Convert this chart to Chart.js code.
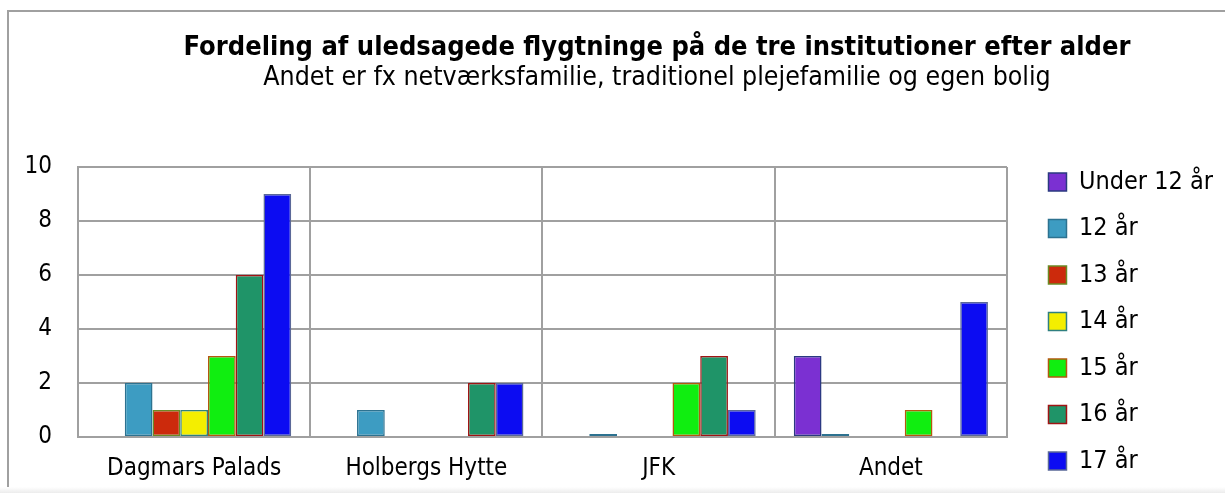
<!DOCTYPE html>
<html>
<head>
<meta charset="utf-8">
<script src="https://cdn.jsdelivr.net/npm/chart.js@4/dist/chart.umd.min.js"></script>
<style>
  body { margin: 0; overflow: hidden; background: #fff; width: 1225px; height: 493px; }
  #frame { position: absolute; left: 7px; top: 10px; width: 1260px; height: 520px; border: 2px solid #a0a0a0; box-sizing: border-box; }
  #shade { position: absolute; left: 0; top: 487px; width: 1225px; height: 6px; background: linear-gradient(#fff, #ececec); }
  canvas { position: absolute; left: 0; top: 0; }
</style>
</head>
<body>
<div id="frame"></div>
<div id="shade"></div>
<canvas id="chart" width="1225" height="493"></canvas>
<script>
// categories and values
const institutions = ['Dagmars Palads', 'Holbergs Hytte', 'JFK', 'Andet'];
const ageGroups = ['Under 12 år', '12 år', '13 år', '14 år', '15 år', '16 år', '17 år'];

const under12 = [null, null, null, 3];
const age12 = [2, 1, 0, 0];
const age13 = [1, null, null, null];
const age14 = [1, null, null, null];
const age15 = [3, null, 2, 1];
const age16 = [6, 2, 3, null];
const age17 = [9, 2, 1, 5];

const yTicks = [0, 2, 4, 6, 8, 10];

const titleText = 'Fordeling af uledsagede flygtninge på de tre institutioner efter alder';
const subtitleText = 'Andet er fx netværksfamilie, traditionel plejefamilie og egen bolig';

const fills = ['#7b30d2', '#3d9cc2', '#cc2a0c', '#f4ee00', '#10ee10', '#1f9468', '#0c0cf2'];
const borders = ['#2a3a80', '#2d7290', '#6b8a24', '#2f7f80', '#b4580e', '#a01414', '#5a6898'];
const series = [under12, age12, age13, age14, age15, age16, age17];

const FONT = '"DejaVu Sans Condensed", "DejaVu Sans", sans-serif';

// title drawn centred where the original chart put it
const headerPlugin = {
  id: 'header',
  afterLayout(chart) {
    // legend sits a bit further from the plot than chart.js puts it
    const lg = chart.legend;
    lg.left += 20; lg.right += 20;
    lg.top += 15; lg.bottom += 15;
  },
  afterDraw(chart) {
    const ctx = chart.ctx;
    ctx.save();
    ctx.fillStyle = '#000';
    ctx.textAlign = 'center';
    ctx.textBaseline = 'middle';
    ctx.font = 'bold 27px ' + FONT;
    ctx.fillText(titleText, 657, 48);
    ctx.font = '26.5px ' + FONT;
    ctx.fillText(subtitleText, 657, 78);
    ctx.restore();
  }
};

new Chart(document.getElementById('chart'), {
  type: 'bar',
  data: {
    labels: institutions,
    datasets: series.map((values, i) => ({
      label: ageGroups[i],
      data: values,
      backgroundColor: fills[i],
      borderColor: borders[i],
      borderWidth: 1.5,
      borderSkipped: false,
      minBarLength: i === 1 ? 3 : 0,
      barPercentage: 1,
      categoryPercentage: 0.836
    }))
  },
  options: {
    responsive: false,
    animation: false,
    layout: { padding: { top: 120, left: 18, right: 22, bottom: 0 } },
    plugins: {
      // empty spacer above the plot only, so the legend keeps its full height
      title: {
        display: true,
        text: ' ',
        fullSize: false,
        font: { size: 10, lineHeight: 1 },
        padding: { top: 0, bottom: 37 }
      },
      tooltip: { enabled: false },
      legend: {
        position: 'right',
        align: 'center',
        labels: {
          font: { family: FONT, size: 25 },
          color: '#000',
          boxWidth: 18,
          boxHeight: 18,
          padding: 21.5,
          generateLabels(chart) {
            return chart.data.datasets.map((ds, i) => ({
              text: ds.label,
              fillStyle: ds.backgroundColor,
              strokeStyle: ds.borderColor,
              lineWidth: 1.5,
              datasetIndex: i
            }));
          }
        }
      }
    },
    scales: {
      x: {
        afterFit(scale) { scale.height = 56; },
        grid: { color: '#a0a0a0', lineWidth: 2, drawTicks: false },
        border: { color: '#a0a0a0', width: 2 },
        ticks: { font: { family: FONT, size: 24 }, color: '#000', padding: 17 }
      },
      y: {
        min: 0,
        max: 10,
        afterBuildTicks(scale) { scale.ticks = yTicks.map(v => ({ value: v })); },
        afterFit(scale) { scale.width = 60; },
        grid: { color: '#a0a0a0', lineWidth: 2, drawTicks: false },
        border: { color: '#a0a0a0', width: 2 },
        ticks: { font: { family: FONT, size: 24 }, color: '#000', padding: 26 }
      }
    }
  },
  plugins: [headerPlugin]
});
</script>
</body>
</html>
